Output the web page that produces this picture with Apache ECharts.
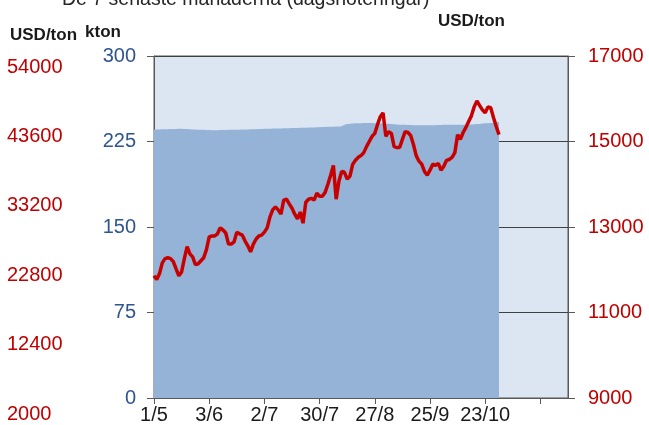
<!DOCTYPE html>
<html>
<head>
<meta charset="utf-8">
<script src="https://cdn.jsdelivr.net/npm/echarts@6/dist/echarts.min.js"></script>
<style>
html, body { margin: 0; padding: 0; background: #fff; }
#chart { width: 649px; height: 425px; }
</style>
</head>
<body>
<div id="chart"></div>
<script>
// tick labels every 20 trading days, last tick has no label
const tickLabels = ['1/5', '3/6', '2/7', '30/7', '27/8', '25/9', '23/10', '']
const tickStep = 20
const slotCount = 151

// lagerstock, kton (vänster axel)
const stockKton = [
  235.5, 235.6, 235.6, 235.7, 235.8, 235.8, 235.9, 236.0, 236.0, 236.1,
  236.1, 236.0, 235.9, 235.8, 235.6, 235.5, 235.4, 235.3, 235.2, 235.1,
  235.0, 234.9, 234.9, 234.9, 235.0, 235.0, 235.1, 235.2, 235.2, 235.3,
  235.4, 235.4, 235.5, 235.6, 235.6, 235.7, 235.8, 235.8, 235.9, 236.0,
  236.1, 236.2, 236.2, 236.3, 236.4, 236.5, 236.5, 236.6, 236.7, 236.7,
  236.8, 236.9, 236.9, 237.0, 237.0, 237.1, 237.2, 237.2, 237.3, 237.5,
  237.6, 237.7, 237.8, 237.9, 238.0, 238.0, 238.1, 238.2, 238.3, 239.6,
  240.4, 240.6, 240.8, 240.9, 241.0, 241.1, 241.2, 241.3, 241.3, 241.2,
  241.1, 241.0, 240.9, 240.7, 240.6, 240.5, 240.3, 240.1, 240.0, 239.8,
  239.7, 239.6, 239.5, 239.4, 239.3, 239.2, 239.2, 239.2, 239.2, 239.2,
  239.2, 239.2, 239.3, 239.4, 239.5, 239.6, 239.7, 239.8, 239.8, 239.8,
  239.8, 239.8, 239.8, 239.8, 239.9, 240.0, 240.1, 240.3, 240.4, 240.7,
  240.9, 241.1, 241.3, 241.5, 241.8, 242.0,
]

// pris, USD/ton (höger axel)
const priceUsd = [
  11860, 11770, 11910, 12160, 12260, 12280, 12260, 12190, 12020, 11860,
  11950, 12260, 12540, 12370, 12300, 12120, 12140, 12210, 12280, 12470,
  12770, 12790, 12790, 12840, 12980, 12930, 12860, 12600, 12600, 12650,
  12880, 12840, 12810, 12670, 12560, 12420, 12600, 12720, 12790, 12810,
  12880, 12980, 13230, 13400, 13470, 13400, 13300, 13630, 13650, 13540,
  13440, 13300, 13190, 13350, 13090, 13580, 13650, 13670, 13630, 13790,
  13720, 13720, 13810, 14000, 14210, 14440, 13650, 14070, 14300, 14280,
  14120, 14190, 14470, 14560, 14630, 14670, 14740, 14880, 15000, 15120,
  15190, 15400, 15580, 15670, 15120, 15230, 15190, 14880, 14860, 14860,
  15050, 15230, 15210, 15140, 14930, 14670, 14540, 14470, 14300, 14210,
  14330, 14470, 14440, 14490, 14330, 14420, 14560, 14580, 14630, 14740,
  15160, 15050, 15210, 15330, 15470, 15600, 15810, 15950, 15840, 15740,
  15670, 15810, 15790, 15560, 15350, 15160,
]

const categories = Array.from({ length: slotCount }, (_, i) => 'd' + i)

const darkText = '#1a1a1a'
const blueText = '#2e5590'
const redText = '#c00000'
const axisGrey = '#595959'
const font = 'Liberation Sans, Arial, sans-serif'
const plain = (v) => String(v) // inga tusentalsavgränsare

const myChart = echarts.init(document.getElementById('chart'))
myChart.setOption({
  animation: false,
  title: {
    text: 'De 7 senaste månaderna (dagsnoteringar)',
    left: 57,
    top: -15,
    textStyle: { fontFamily: font, fontSize: 19.5, fontWeight: 'normal', color: '#262626' },
  },
  grid: [
    {
      left: 154,
      right: 81,
      top: 56,
      bottom: 25,
      show: true,
      backgroundColor: '#dce6f2',
      borderColor: axisGrey,
      borderWidth: 1,
    },
    // extra skala längst till vänster
    { left: 7, width: 10, top: 67, bottom: 11 },
  ],
  xAxis: [
    {
      type: 'category',
      gridIndex: 0,
      data: categories,
      boundaryGap: false,
      axisLine: { lineStyle: { color: axisGrey } },
      axisTick: {
        length: 6,
        interval: (i) => i % tickStep === 0,
        lineStyle: { color: axisGrey },
      },
      axisLabel: {
        interval: (i) => i % tickStep === 0,
        formatter: (v, i) => tickLabels[i / tickStep] || '',
        margin: 7,
        color: darkText,
        fontFamily: font,
        fontSize: 20,
      },
    },
    { type: 'value', gridIndex: 1, show: false },
  ],
  yAxis: [
    {
      type: 'value',
      gridIndex: 0,
      min: 0,
      max: 300,
      interval: 75,
      name: 'kton',
      nameLocation: 'end',
      nameGap: 24,
      nameTextStyle: {
        fontFamily: font, fontSize: 17, fontWeight: 'bold', color: darkText,
        align: 'right', verticalAlign: 'middle', padding: [0, 33, 0, 0],
      },
      axisLine: { show: true, lineStyle: { color: axisGrey } },
      axisTick: { show: true, length: 7, lineStyle: { color: axisGrey } },
      axisLabel: { margin: 18, color: blueText, fontFamily: font, fontSize: 20, formatter: plain },
      splitLine: { show: true, lineStyle: { color: '#404040', width: 1 } },
    },
    {
      type: 'value',
      gridIndex: 0,
      position: 'right',
      min: 9000,
      max: 17000,
      interval: 2000,
      name: 'USD/ton',
      nameLocation: 'end',
      nameGap: 35,
      nameTextStyle: {
        fontFamily: font, fontSize: 17, fontWeight: 'bold', color: darkText,
        align: 'right', verticalAlign: 'middle', padding: [0, 63, 0, 0],
      },
      axisLine: { show: true, lineStyle: { color: axisGrey } },
      axisTick: { show: true, length: 7, lineStyle: { color: axisGrey } },
      axisLabel: { margin: 20, color: redText, fontFamily: font, fontSize: 20, formatter: plain },
      splitLine: { show: false },
    },
    {
      type: 'value',
      gridIndex: 1,
      min: 2000,
      max: 54000,
      interval: 10400,
      name: 'USD/ton',
      nameLocation: 'end',
      nameGap: 32,
      nameTextStyle: {
        fontFamily: font, fontSize: 17, fontWeight: 'bold', color: darkText,
        align: 'left', verticalAlign: 'middle', padding: [0, 0, 0, 3],
      },
      axisLine: { show: false },
      axisTick: { show: false },
      splitLine: { show: false },
      axisLabel: { inside: true, margin: 0, color: redText, fontFamily: font, fontSize: 20, formatter: plain },
    },
  ],
  series: [
    {
      name: 'Lager',
      type: 'line',
      xAxisIndex: 0,
      yAxisIndex: 0,
      data: stockKton,
      symbol: 'none',
      lineStyle: { width: 0 },
      itemStyle: { color: '#95b3d7' },
      areaStyle: { color: '#95b3d7', opacity: 1 },
    },
    {
      name: 'Pris',
      type: 'line',
      xAxisIndex: 0,
      yAxisIndex: 1,
      data: priceUsd,
      symbol: 'none',
      smooth: false,
      lineStyle: { width: 3.5, color: '#c80000' },
    },
  ],
})
</script>
</body>
</html>
